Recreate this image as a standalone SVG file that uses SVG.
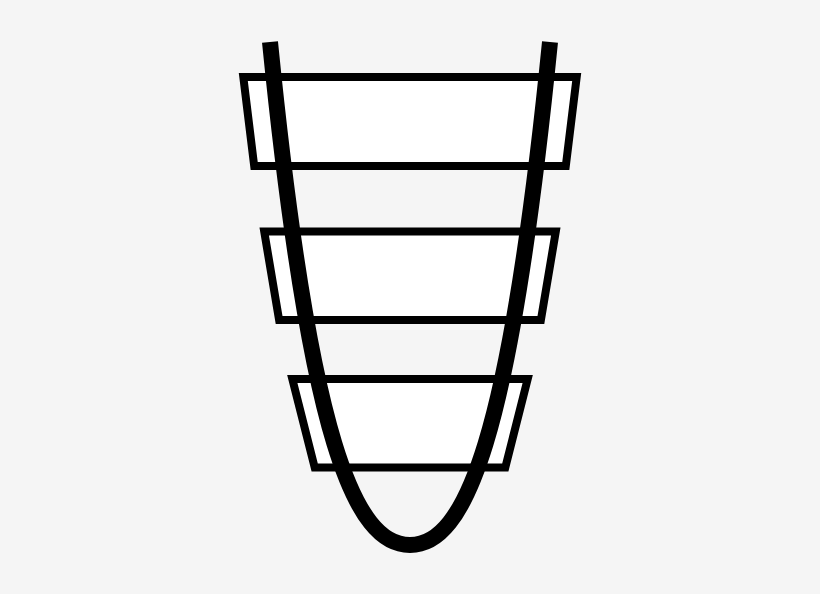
<svg xmlns="http://www.w3.org/2000/svg" width="820" height="594" viewBox="0 0 820 594">
  <style>
    .tier { fill: #ffffff; stroke: #000000; stroke-width: 8; stroke-linejoin: miter; }
    .curve { fill: none; stroke: #000000; stroke-width: 16; stroke-linecap: butt; }
  </style>
  <rect x="0" y="0" width="820" height="594" fill="#f5f5f5"/>
  <g id="tier-top">
    <polygon class="tier" points="243.3,77 576.7,77 565.8,166 254.2,166"/>
  </g>
  <g id="tier-middle">
    <polygon class="tier" points="264.2,231.5 555.8,231.5 540.9,320 279.1,320"/>
  </g>
  <g id="tier-bottom">
    <polygon class="tier" points="292.3,379 527.7,379 505.3,467.5 314.7,467.5"/>
  </g>
  <g id="connectors">
    <path class="curve" d="M270,42 C310,442 355,545 410,545 C465,545 510,442 550,42"/>
  </g>
</svg>
